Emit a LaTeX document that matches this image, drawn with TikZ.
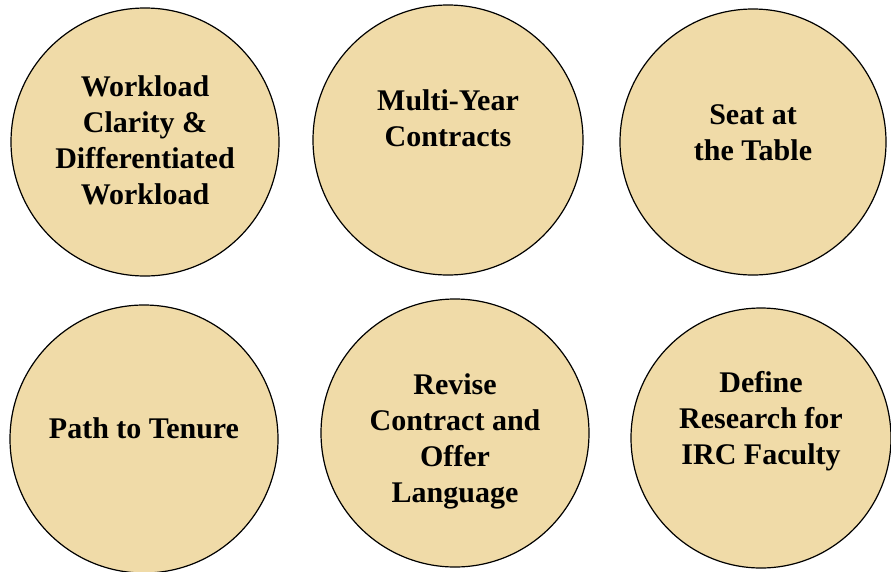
\documentclass[tikz,border=0pt]{standalone}
\usepackage{fontspec}
\setmainfont{LiberationSerif-Regular.ttf}[BoldFont=LiberationSerif-Bold.ttf]
\definecolor{goalbeige}{RGB}{240,219,168}
\usetikzlibrary{positioning}
\tikzset{
  goal/.style    = {circle, draw=black, line width=1.2pt, fill=goalbeige,
                    minimum size=#1, inner sep=0pt},
  goaltxt/.style = {align=center, inner sep=0pt,
                    font=\bfseries\fontsize{30}{36}\selectfont}
}

\begin{document}
\begin{tikzpicture}[x=1pt, y=-1pt]
  \useasboundingbox (0,0) rectangle (891,571);

  % top row
  \node[goal=268pt] (workload)  at (145,142) {};
  \node[goal=270pt] (contracts) at (448,140) {};
  \node[goal=266pt] (seat)      at (753,142) {};

  % bottom row
  \node[goal=268pt] (tenure)    at (144,439) {};
  \node[goal=268pt] (language)  at (455,433) {};
  \node[goal=260pt] (research)  at (761,438) {};

  \node[goaltxt] (workload-t)  at ([yshift=2pt]workload.center)
    {Workload\\Clarity \&\\Differentiated\\Workload};
  \node[goaltxt] (contracts-t) at ([yshift=22pt]contracts.center)
    {Multi-Year\\Contracts};
  \node[goaltxt] (seat-t)      at ([yshift=9pt]seat.center)
    {Seat at\\the Table};
  \node[goaltxt] (tenure-t)    at ([yshift=11pt]tenure.center)
    {Path to Tenure};
  \node[goaltxt] (language-t)  at ([yshift=-8pt]language.center)
    {Revise\\Contract and\\Offer\\Language};
  \node[goaltxt] (research-t)  at ([yshift=17pt]research.center)
    {Define\\Research for\\IRC Faculty};
\end{tikzpicture}
\end{document}
